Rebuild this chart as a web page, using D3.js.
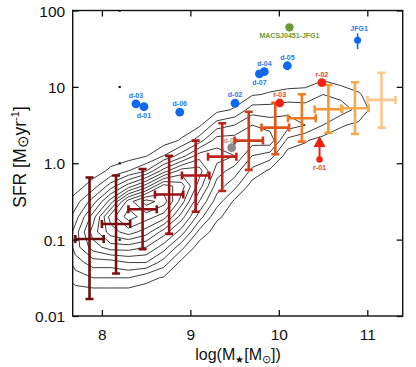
<!DOCTYPE html>
<html><head><meta charset="utf-8">
<script src="https://cdn.jsdelivr.net/npm/d3@7"></script>
<style>
body{margin:0;background:#fff;}
svg text{font-family:"Liberation Sans",Arial,Helvetica,sans-serif;}
</style></head>
<body><svg id="c" width="416" height="367"></svg>
<script>
// ---------------- data ----------------
const xTicks = [8, 9, 10, 11];
const yTicks = [0.01, 0.1, 1, 10, 100];
const yTickLabels = ["0.01", "0.1", "1.0", "10", "100"];

// stacked (binned) measurements
const binMass    = [7.86, 8.16, 8.46, 8.76, 9.06, 9.36, 9.66, 9.96, 10.26, 10.56, 10.86, 11.16];
const binMassErr = [0.16, 0.16, 0.16, 0.16, 0.155, 0.16, 0.16, 0.156, 0.157, 0.155, 0.155, 0.158];
const binSFR     = [0.102, 0.16, 0.25, 0.39, 0.69, 1.22, 1.98, 2.93, 3.88, 5.1, 5.25, 6.75];
const binSFRLo   = [0.0167, 0.036, 0.075, 0.119, 0.232, 0.434, 0.82, 1.31, 1.92, 2.51, 2.42, 2.93];
const binSFRHi   = [0.65, 0.69, 0.84, 1.25, 1.98, 3.34, 4.73, 6.2, 8.0, 10.6, 11.5, 15.3];
const binColors  = ["#6b0e0e", "#7a0f0f", "#8a1010", "#9b1212", "#ad1515", "#bf2418", "#cc3c18", "#e0581a", "#f07a20", "#f59632", "#f8aa4e", "#fcc68c"];

// blue galaxies
const blueNames = ["d-01", "d-02", "d-03", "d-04", "d-05", "d-06", "d-07"];
const blueMass  = [8.475, 9.505, 8.385, 9.836, 10.096, 8.88, 9.78];
const blueSFR   = [5.5, 6.1, 6.0, 15.8, 18.9, 4.66, 14.8];
const blueLabelSide = ["below", "above", "above", "above", "above", "above", "below"];

// JFG1 (with error)
const jfgName = ["JFG1"];
const jfgMass = [10.89];
const jfgSFR = [40.8];
const jfgSFRLo = [31.3];
const jfgSFRHi = [50.4];

// green
const greenName = ["MACSJ0451-JFG1"];
const greenMass = [10.12];
const greenSFR = [60.2];

// red galaxies
const redNames = ["r-02", "r-03"];
const redMass  = [10.486, 10.01];
const redSFR   = [11.4, 6.15];

// red lower limit (arrow)
const limitName = ["r-01"];
const limitMass = [10.46];
const limitSFR = [1.12];
const limitArrowBase = [1.63];
const limitArrowTip = [2.27];

// gray
const grayName = ["d-08"];
const grayMass = [9.467];
const graySFR = [1.6];

// stray marks in the figure
const strayMass = [8.2, 8.2, 8.2, 8.2];
const straySFR  = [100, 10, 1, 0.1];

// density grid (contour levels)
const gridMass   = [7.5, 7.7, 7.9, 8.1, 8.3, 8.5, 8.7, 8.9, 9.1, 9.3, 9.5, 9.7, 9.9, 10.1, 10.3, 10.5, 10.7, 10.9, 11.1, 11.3];
const gridLogSFR = [1.5, 1.3, 1.1, 0.9, 0.7, 0.5, 0.3, 0.1, -0.1, -0.3, -0.5, -0.7, -0.9, -1.1, -1.3, -1.5, -1.7, -1.9];
const densityRows = [
 [0,0,0,0,0,0,0,0,0,0,0,0,0,0,0,0,0,0,0,0],
 [0,0,0,0,0,0,0,0,0,0,0,0,0,0,0,0,0,0,0,0],
 [0,0,0,0,0,0,0,0,0,0,0,0,0,0,0,0.4,0,0,0,0],
 [0,0,0,0,0,0,0,0,0,0,0,0.4,0.6,0.8,0.9,1.5,1.2,0.6,0,0],
 [0,0,0,0,0,0,0,0,0,0.2,0.6,2,2,2.2,2,2,2,1.2,0,0],
 [0,0,0,0,0,0,0,0,0.3,2,2.5,3.5,3,3,2.5,1.5,0.6,0.3,0,0],
 [0,0,0,0,0,0,0,0.6,2,4,4,4,4.2,1.2,0.6,0.1,0,0,0,0],
 [0,0,0,0,0,0.4,1.5,3,5,5,4.5,2.5,2,0,0,0,0,0,0,0],
 [0,0,0,0.7,1.5,2.5,5,7,7,4,3,1.2,0.3,0,0,0,0,0,0,0],
 [0,0,1,3,5,7,10,9,6,3,1.8,0,0,0,0,0,0,0,0,0],
 [0,1,3,6,10,12,11,8,4.5,2,0.3,0,0,0,0,0,0,0,0,0],
 [0,2,5,9,11,10,9,6,3,0.7,0,0,0,0,0,0,0,0,0,0],
 [0,3,6,8,9,8,6,4,1.2,0,0,0,0,0,0,0,0,0,0,0],
 [0,3,5,6,6,5.5,4,1.8,0,0,0,0,0,0,0,0,0,0,0,0],
 [0,2,3,3,3.5,3.5,2,0.2,0,0,0,0,0,0,0,0,0,0,0,0],
 [0,1,1.5,1.5,1.5,0.8,0.4,0,0,0,0,0,0,0,0,0,0,0,0,0],
 [0,0,0,0,0,0,0,0,0,0,0,0,0,0,0,0,0,0,0,0],
 [0,0,0,0,0,0,0,0,0,0,0,0,0,0,0,0,0,0,0,0]
];
const contourLevels = [0.5, 1.5, 2.5, 3.5, 4.5, 5.5, 6.5, 7.5, 8.5, 9.5, 10.5, 11.5];

// ---------------- layout ----------------
const W = 416, H = 367;
const m = {left: 72.7, right: 13.3, top: 10.5, bottom: 51};
const svg = d3.select("#c");
const x = d3.scaleLinear().domain([7.67, 11.40]).range([m.left, W - m.right]);
const y = d3.scaleLog().domain([0.01, 100]).range([H - m.bottom, m.top]);

svg.append("defs").append("clipPath").attr("id", "clip")
  .append("rect").attr("x", m.left).attr("y", m.top)
  .attr("width", W - m.left - m.right).attr("height", H - m.top - m.bottom);

const plot = svg.append("g").attr("clip-path", "url(#clip)");

// ---------------- contours ----------------
const nC = gridMass.length, nR = gridLogSFR.length;
const flat = [];
densityRows.forEach(r => r.forEach(v => flat.push(v)));
const dM = gridMass[1] - gridMass[0];
const dS = gridLogSFR[1] - gridLogSFR[0];
const contours = d3.contours().size([nC, nR]).smooth(true).thresholds(contourLevels)(flat);
const proj = d3.geoTransform({
  point: function(cx, cy) {
    const mass = gridMass[0] + (cx - 0.5) * dM;
    const ls = gridLogSFR[0] + (cy - 0.5) * dS;
    this.stream.point(x(mass), y(Math.pow(10, ls)));
  }
});
const gp = d3.geoPath(proj);
plot.append("g").selectAll("path").data(contours).join("path")
  .attr("d", gp).attr("fill", "none").attr("stroke", "#1a1a1a").attr("stroke-width", 0.85)
  .attr("stroke-linejoin", "round");

// stray marks
plot.append("g").selectAll("rect").data(strayMass).join("rect")
  .attr("x", (d, i) => x(d) - 1).attr("y", (d, i) => y(straySFR[i]) - 1)
  .attr("width", 2.2).attr("height", 2.2).attr("fill", "#111");

// gray point (behind bars)
const gCol = "#8c8c8c";
plot.append("circle").attr("cx", x(grayMass[0])).attr("cy", y(graySFR[0])).attr("r", 4.4).attr("fill", gCol);
plot.append("text").attr("x", x(grayMass[0]) - 1).attr("y", y(graySFR[0]) - 5)
  .attr("text-anchor", "middle").attr("font-size", 7).attr("font-weight", "bold").attr("fill", "#a0a0a0").text(grayName[0]);

// ---------------- error bars ----------------
const eb = plot.append("g");
binMass.forEach((mv, i) => {
  const g = eb.append("g").attr("stroke", binColors[i]).attr("stroke-width", 2.6).attr("fill", "none");
  const cx = x(mv), cy = y(binSFR[i]);
  const x0 = x(mv - binMassErr[i]), x1 = x(mv + binMassErr[i]);
  const y0 = y(binSFRLo[i]), y1 = y(binSFRHi[i]);
  const cap = 4;
  g.append("line").attr("x1", x0).attr("x2", x1).attr("y1", cy).attr("y2", cy);
  g.append("line").attr("x1", cx).attr("x2", cx).attr("y1", y0).attr("y2", y1);
  g.append("line").attr("x1", x0).attr("x2", x0).attr("y1", cy - cap).attr("y2", cy + cap);
  g.append("line").attr("x1", x1).attr("x2", x1).attr("y1", cy - cap).attr("y2", cy + cap);
  g.append("line").attr("x1", cx - cap).attr("x2", cx + cap).attr("y1", y0).attr("y2", y0);
  g.append("line").attr("x1", cx - cap).attr("x2", cx + cap).attr("y1", y1).attr("y2", y1);
});

// ---------------- points ----------------
const blue = "#1068f0", blueTxt = "#2a78f0";
const red = "#f5200f", redTxt = "#f0402a";
const green = "#6c9a34";
const pts = plot.append("g");
blueMass.forEach((mv, i) => {
  const cx = x(mv), cy = y(blueSFR[i]);
  pts.append("circle").attr("cx", cx).attr("cy", cy).attr("r", 4.4).attr("fill", blue);
  pts.append("text").attr("x", cx).attr("y", blueLabelSide[i] === "above" ? cy - 6 : cy + 11)
    .attr("text-anchor", "middle").attr("font-size", 7).attr("font-weight", "bold").attr("fill", blueTxt).text(blueNames[i]);
});
// JFG1
{
  const cx = x(jfgMass[0]), cy = y(jfgSFR[0]);
  pts.append("line").attr("x1", cx).attr("x2", cx).attr("y1", y(jfgSFRLo[0])).attr("y2", y(jfgSFRHi[0]))
    .attr("stroke", blue).attr("stroke-width", 1.6);
  pts.append("circle").attr("cx", cx).attr("cy", cy).attr("r", 3.5).attr("fill", blue);
  pts.append("text").attr("x", cx + 1.5).attr("y", cy - 9).attr("text-anchor", "middle")
    .attr("font-size", 7).attr("font-weight", "bold").attr("fill", blueTxt).text(jfgName[0]);
}
// green
{
  const cx = x(greenMass[0]), cy = y(greenSFR[0]);
  pts.append("circle").attr("cx", cx).attr("cy", cy).attr("r", 4.2).attr("fill", green);
  pts.append("text").attr("x", cx).attr("y", cy + 11).attr("text-anchor", "middle")
    .attr("font-size", 7).attr("font-weight", "bold").attr("fill", green).text(greenName[0]);
}
// red
redMass.forEach((mv, i) => {
  const cx = x(mv), cy = y(redSFR[i]);
  pts.append("circle").attr("cx", cx).attr("cy", cy).attr("r", 4.4).attr("fill", red);
  pts.append("text").attr("x", cx).attr("y", cy - 6).attr("text-anchor", "middle")
    .attr("font-size", 7).attr("font-weight", "bold").attr("fill", redTxt).text(redNames[i]);
});
// lower limit
{
  const cx = x(limitMass[0]), cy = y(limitSFR[0]);
  const yb = y(limitArrowBase[0]), yt = y(limitArrowTip[0]);
  pts.append("line").attr("x1", cx).attr("x2", cx).attr("y1", cy).attr("y2", yb)
    .attr("stroke", red).attr("stroke-width", 2);
  pts.append("path").attr("d", `M${cx - 6},${yb}L${cx + 6},${yb}L${cx},${yt}Z`).attr("fill", red);
  pts.append("circle").attr("cx", cx).attr("cy", cy).attr("r", 3.2).attr("fill", red);
  pts.append("text").attr("x", cx).attr("y", cy + 11).attr("text-anchor", "middle")
    .attr("font-size", 7).attr("font-weight", "bold").attr("fill", redTxt).text(limitName[0]);
}

// ---------------- axes ----------------
const tk = 6;
const fmtY = d => yTickLabels[yTicks.indexOf(d)];
const axB = svg.append("g").attr("transform", `translate(0,${H - m.bottom})`)
  .call(d3.axisBottom(x).tickValues(xTicks).tickSize(-tk).tickPadding(12.5).tickFormat(d3.format("d")));
const axT = svg.append("g").attr("transform", `translate(0,${m.top})`)
  .call(d3.axisTop(x).tickValues(xTicks).tickSize(-tk).tickFormat(""));
const axL = svg.append("g").attr("transform", `translate(${m.left},0)`)
  .call(d3.axisLeft(y).tickValues(yTicks).tickSize(-tk).tickPadding(7.5).tickFormat(fmtY));
const axR = svg.append("g").attr("transform", `translate(${W - m.right},0)`)
  .call(d3.axisRight(y).tickValues(yTicks).tickSize(-tk).tickFormat(""));
[axB, axT, axL, axR].forEach(a => {
  a.select(".domain").remove();
  a.selectAll(".tick line").attr("stroke", "#111").attr("stroke-width", 1.3);
  a.selectAll(".tick text").attr("font-size", 15.5).attr("fill", "#111")
    .attr("font-family", "'Liberation Sans',Arial,sans-serif");
});
axL.selectAll(".tick text").attr("dy", "0.36em");
svg.append("rect").attr("x", m.left).attr("y", m.top)
  .attr("width", W - m.left - m.right).attr("height", H - m.top - m.bottom)
  .attr("fill", "none").attr("stroke", "#111").attr("stroke-width", 1.4);

// ---------------- axis titles ----------------
const xl = svg.append("text").attr("x", 238).attr("y", 360).attr("text-anchor", "middle")
  .attr("font-size", 16).attr("fill", "#111");
xl.append("tspan").text("log(M");
xl.append("tspan").attr("font-size", 10).attr("dy", 3).text("★");
xl.append("tspan").attr("dy", -3).text("[M");
xl.append("tspan").attr("font-size", 11).attr("dy", 3).text("⊙");
xl.append("tspan").attr("dy", -3).text("])");

const yl = svg.append("text").attr("transform", "translate(25.5,157) rotate(-90)")
  .attr("text-anchor", "middle").attr("font-size", 17.5).attr("fill", "#111");
yl.append("tspan").text("SFR [M");
yl.append("tspan").attr("font-size", 15).attr("dy", 2).text("⊙");
yl.append("tspan").attr("dy", -2).text("yr");
yl.append("tspan").attr("font-size", 11).attr("dy", -7).text("-1");
yl.append("tspan").attr("dy", 7).text("]");
</script></body></html>
